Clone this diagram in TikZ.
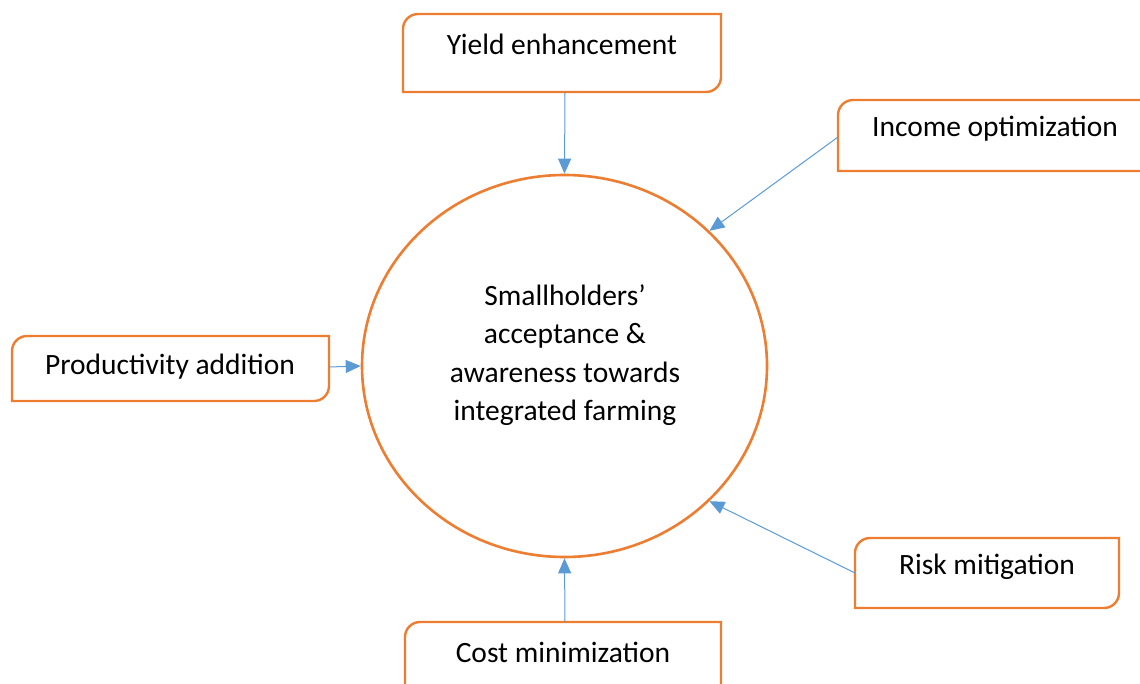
\documentclass[tikz,border=0pt]{standalone}
\usepackage{fontspec}
\setmainfont{Carlito}
\usetikzlibrary{arrows.meta,shapes.geometric}
\definecolor{boxorange}{HTML}{ED7D31}
\definecolor{arrowblue}{HTML}{5B9BD5}
\tikzset{
  boxline/.style={draw=boxorange, line width=2.4pt},
  conn/.style={draw=arrowblue, line width=1pt, -{Triangle[length=15pt,width=13pt]}},
  lbl/.style={font=\fontsize{29.5}{38.5}\selectfont, text=black, inner sep=0pt},
  area/.style={inner sep=0pt, draw=none}
}
\begin{document}
\begin{tikzpicture}[x=1pt,y=-1pt]
\useasboundingbox (0,0) rectangle (1140,684);
\clip (0,0) rectangle (1140,684);
% boxes
\draw[boxline] (403,92) -- (403,29) arc[start angle=180,end angle=90,radius=15pt] -- (721,14) -- (721,77) arc[start angle=0,end angle=-90,radius=15pt] -- cycle;
\draw[boxline] (838,171) -- (838,115) arc[start angle=180,end angle=90,radius=15pt] -- (1160,100) -- (1160,171) -- cycle;
\draw[boxline] (12,401) -- (12,351) arc[start angle=180,end angle=90,radius=15pt] -- (329,336) -- (329,386) arc[start angle=0,end angle=-90,radius=15pt] -- cycle;
\draw[boxline] (855,608) -- (855,553) arc[start angle=180,end angle=90,radius=15pt] -- (1119,538) -- (1119,593) arc[start angle=0,end angle=-90,radius=15pt] -- cycle;
\draw[boxline] (405,700) -- (405,637) arc[start angle=180,end angle=90,radius=15pt] -- (721,622) -- (721,685) arc[start angle=0,end angle=-90,radius=15pt] -- cycle;
% anchor nodes for the boxes
\node[area, minimum width=318pt, minimum height=78pt] (yield) at (562,53) {};
\node[area, minimum width=322pt, minimum height=71pt] (income) at (999,135.5) {};
\node[area, minimum width=317pt, minimum height=65pt] (prod) at (170.5,368.5) {};
\node[area, minimum width=264pt, minimum height=70pt] (risk) at (987,573) {};
\node[area, minimum width=316pt, minimum height=78pt] (cost) at (563,661) {};
% labels
\node[lbl] (yieldt) at (562,44) {Yield enhancement};
\node[lbl] (incomet) at (995,129) {Income optimization};
\node[lbl] (prodt) at (170,367) {Productivity addition};
\node[lbl] (riskt) at (987,567) {Risk mitigation};
\node[lbl] (costt) at (563,652) {Cost minimization};
% circle
\node[ellipse, draw=boxorange, line width=2.6pt, minimum width=405pt, minimum height=382pt, inner sep=0pt] (c) at (564.5,366) {};
\node[lbl, align=center] (ct) at (565,355) {Smallholders’\\acceptance \&\\awareness towards\\integrated farming};
% connectors
\coordinate (yS) at (565,92);
\coordinate (iW) at (838,137);
\coordinate (pE) at (329,367);
\coordinate (rW) at (855,573);
\coordinate (cN) at (565,622);
\draw[conn] (yS) -- (c.north);
\draw[conn] (iW) -- (c.43);
\draw[conn] (pE) -- (c.west);
\draw[conn] (rW) -- (c.-43.5);
\draw[conn] (cN) -- (c.south);
\end{tikzpicture}
\end{document}
